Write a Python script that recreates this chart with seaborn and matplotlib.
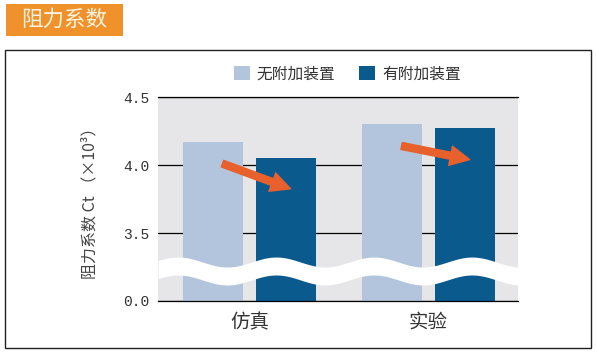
import numpy as np
import pandas as pd
import matplotlib
matplotlib.use("Agg")
import matplotlib.pyplot as plt
import seaborn as sns
from matplotlib.patches import Rectangle

# 数据
categories = ['仿真', '实验']
series = ['无附加装置', '有附加装置']
ct_without = [4.17, 4.30]
ct_with = [4.055, 4.27]
yticks = [0.0, 3.5, 4.0, 4.5]
ytick_labels = ['0.0', '3.5', '4.0', '4.5']

colors = {'无附加装置': '#b2c5dc', '有附加装置': '#0b5a8e'}

df = pd.DataFrame({
    '工况': categories * 2,
    '装置': [series[0]] * 2 + [series[1]] * 2,
    'Ct': ct_without + ct_with,
})

sns.set_style("white")
plt.rcParams['font.family'] = ['Noto Sans CJK SC', 'DejaVu Sans']

fig = plt.figure(figsize=(5.97, 3.52), dpi=100)
ax = fig.add_axes([0.2647, 0.1449, 0.603, 0.5795])


# 断轴：0~3.5 压缩成一格
def fwd(v):
    v = np.asarray(v, dtype=float)
    return np.where(v <= 3.5, v / 3.5, 1 + (v - 3.5) / 0.5)


def inv(u):
    u = np.asarray(u, dtype=float)
    return np.where(u <= 1, u * 3.5, 3.5 + (u - 1) * 0.5)


ax.set_yscale('function', functions=(fwd, inv))

sns.barplot(data=df, x='工况', y='Ct', hue='装置', hue_order=series,
            palette=colors, saturation=1, width=0.82, gap=0.18,
            linewidth=0, edgecolor='none', ax=ax, zorder=2)

ax.set_ylim(0, 4.5)
ax.set_xlim(-0.51, 1.5)
ax.set_yticks(yticks)
ax.set_yticklabels(ytick_labels, family='Liberation Mono', fontsize=10.5, color='#333333')
ax.set_facecolor('#e6e6e8')
ax.yaxis.grid(True, color='black', lw=0.9)
ax.set_axisbelow(True)
for side in ['left', 'right']:
    ax.spines[side].set_visible(False)
for side in ['top', 'bottom']:
    ax.spines[side].set_color('black')
    ax.spines[side].set_linewidth(0.9)
ax.tick_params(axis='both', length=0)
ax.tick_params(axis='y', pad=6)
ax.tick_params(axis='x', pad=8, labelsize=14, labelcolor='#333333')
ax.set_xlabel('')
ax.set_ylabel('阻力系数 Ct （×10³）', fontsize=11.5, color='#444444')
ax.yaxis.set_label_coords(-0.165, 0.5)

# 白色波浪断裂带
xs = np.linspace(0, 1, 400)
center = 0.147 - 0.0245 * np.cos(2 * np.pi * (xs - 0.192) / 0.272)
ax.fill_between(xs, center - 0.044, center + 0.044, color='white',
                transform=ax.transAxes, zorder=5, lw=0)

# 橙色箭头
for i in range(len(categories)):
    ax.annotate('', xy=(i + 0.23, ct_with[i] - 0.23),
                xytext=(i - 0.15, ct_without[i] - 0.16),
                arrowprops=dict(arrowstyle='simple,head_length=1.0,head_width=1.0,tail_width=0.36',
                                color='#e8602c', mutation_scale=14, shrinkA=0, shrinkB=0),
                zorder=6)

# 图例
ax.legend(loc='center', bbox_to_anchor=(0.582, 0.79), bbox_transform=fig.transFigure,
          ncol=2, frameon=False, fontsize=11.3, handlelength=1.0, handleheight=1.0,
          handletextpad=0.45, columnspacing=1.5, labelcolor='#333333')

# 外框
fig.patches.append(Rectangle((0.0084, 0.0114), 0.9816, 0.8466, transform=fig.transFigure,
                             fill=False, edgecolor='#222222', lw=1.0))

# 标题块
fig.patches.append(Rectangle((0.010, 0.898), 0.196, 0.091, transform=fig.transFigure,
                             facecolor='#f0922b', edgecolor='none'))
fig.text(0.107, 0.943, '阻力系数', ha='center', va='center', fontsize=15.5, color='#fdf3e0')

fig.savefig('out.png', dpi=100)
